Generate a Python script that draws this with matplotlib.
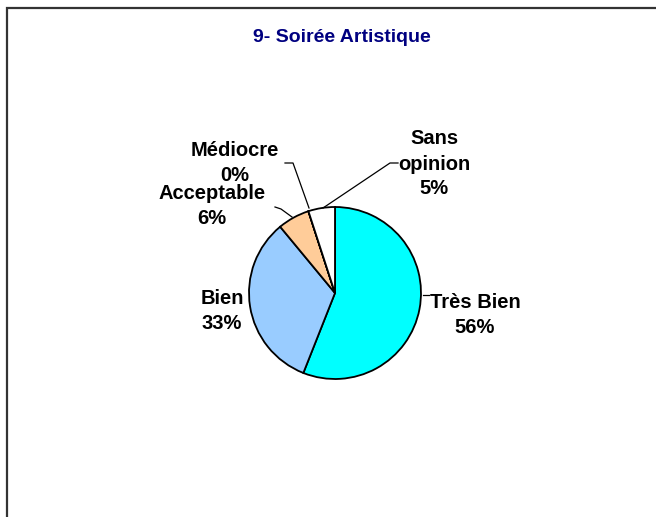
import matplotlib
matplotlib.use("Agg")
import matplotlib.pyplot as plt
from matplotlib.patches import Rectangle

labels = ["Très Bien", "Bien", "Acceptable", "Médiocre", "Sans\nopinion"]
values = [56, 33, 6, 0.001, 5]
pcts = ["56%", "33%", "6%", "0%", "5%"]
colors = ["#00FFFF", "#99CCFF", "#FFCC99", "#FFFFFF", "#FFFFFF"]

W, H = 656, 517
cx, cy, r = 335, 293, 86

plt.rcParams["font.family"] = ["Liberation Sans", "DejaVu Sans"]

fig = plt.figure(figsize=(W / 100, H / 100), dpi=100)
ax = fig.add_axes([0, 0, 1, 1])

wedges, _ = ax.pie(values, colors=colors, startangle=90, counterclock=False,
                   radius=1, center=(0, 0), frame=True,
                   wedgeprops=dict(edgecolor="black", linewidth=1.3))
ax.set_xlim(-cx / r, (W - cx) / r)
ax.set_ylim(-(H - cy) / r, cy / r)
ax.set_aspect("auto")
ax.axis("off")


def px(x, y):
    return ((x - cx) / r, (cy - y) / r)


# label positions (pixels) and leader line (pixel points) per slice
label_pos = [(475, 315), (222, 311), (212, 206), (235, 163), (434, 164)]
leaders = [
    [(423, 295), (429, 295)],
    None,
    [(275, 207), (281, 209), (292, 217)],
    [(285, 163), (293, 163), (309, 208)],
    [(398, 163), (390, 163), (323, 208)],
]

for i, (lab, pct) in enumerate(zip(labels, pcts)):
    x, y = px(*label_pos[i])
    ax.text(x, y, f"{lab}\n{pct}", ha="center", va="center",
            fontsize=14.5, fontweight="bold", linespacing=1.4)
    if leaders[i]:
        pts = [px(*p) for p in leaders[i]]
        ax.plot([p[0] for p in pts], [p[1] for p in pts], color="black", lw=0.9)

fig.text(342 / W, 1 - 37 / H, "9- Soirée Artistique", ha="center", va="center",
         fontsize=14, fontweight="bold", color="#000080")

fig.patches.append(Rectangle((6.5 / W, -0.1), 1.2, 1 - 7.5 / H + 0.1,
                             transform=fig.transFigure, fill=False,
                             edgecolor="#333333", linewidth=1.6))

fig.savefig("out.png", dpi=100)
